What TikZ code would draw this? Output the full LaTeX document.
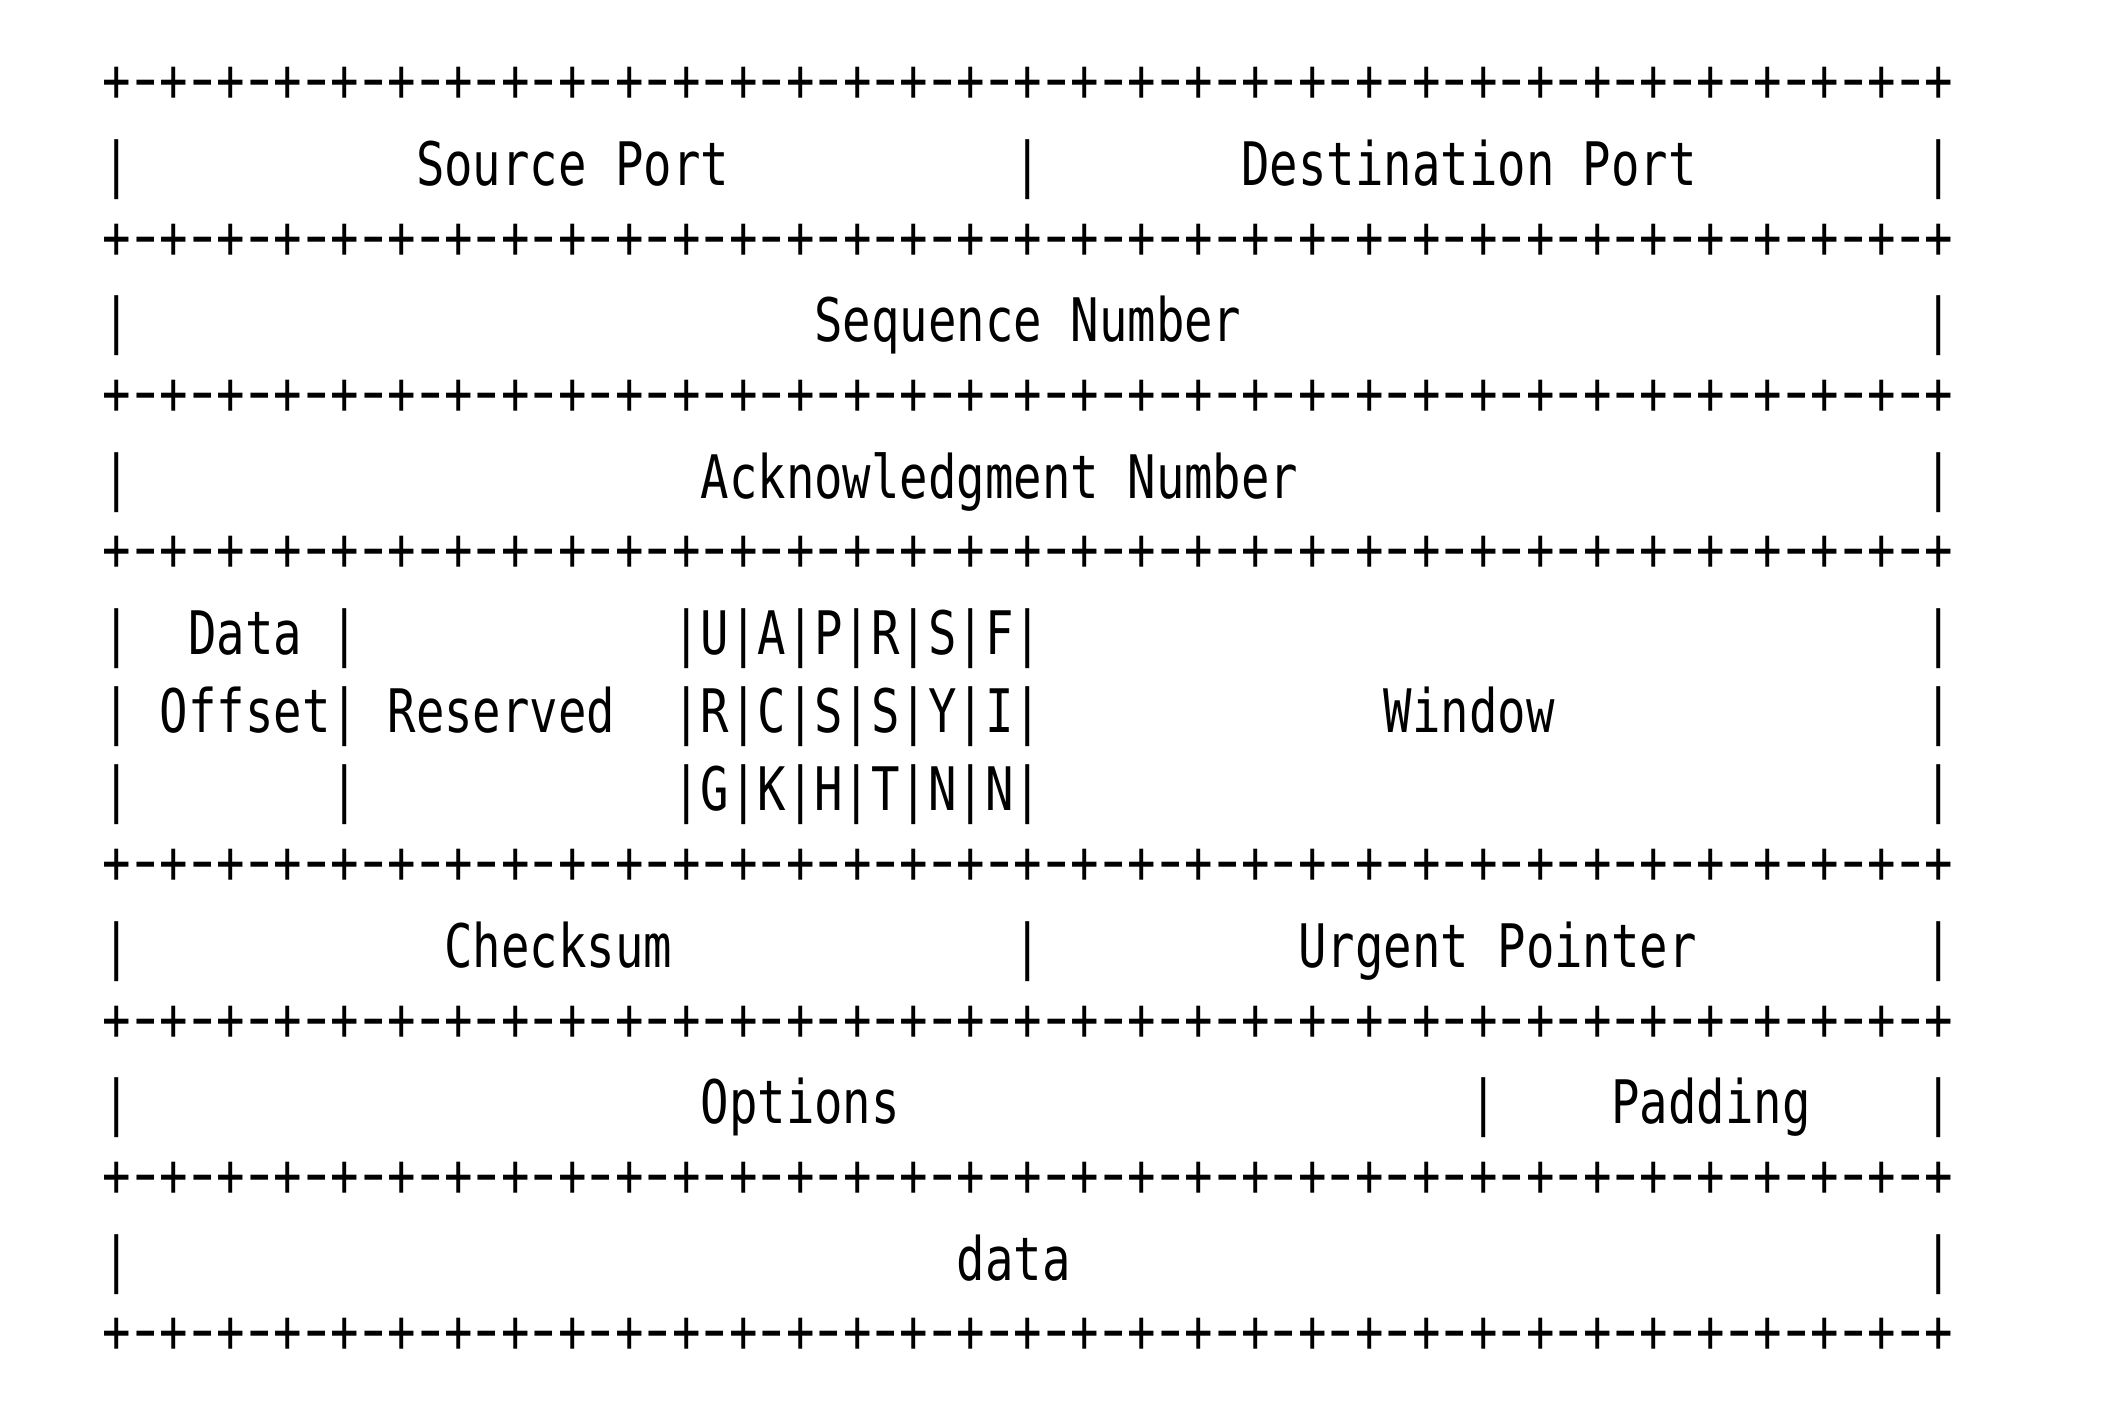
\documentclass[tikz,border=0pt]{standalone}
\usepackage{fontspec}
\newfontfamily\hdrfont{DejaVu Sans Mono}[FakeStretch=0.788]
\newcommand{\bitdash}{\makebox[7.115pt][c]{\scalebox{0.72}[1]{−}}}
\newcommand{\bitrule}{+\foreach \i in {1,...,32}{\bitdash+}}
\begin{document}
\begin{tikzpicture}[x=7.115pt, y=-19.55pt, every node/.style={inner sep=0pt, outer sep=0pt, anchor=base west, font=\hdrfont\fontsize{15}{18}\selectfont}]
				\useasboundingbox (-25.75pt,26.75pt) rectangle (505.5pt,-330pt);
				\foreach \r in {0,2,4,6,10,12,14,16}
					\node[yshift=1.35pt] (rule\r) at (0,\r) {\bitrule};
				\foreach \r/\c in {1/0,1/32,1/64,3/0,3/64,5/0,5/64,7/0,7/8,7/64,8/0,8/8,8/64,9/0,9/8,9/64,11/0,11/32,11/64,13/0,13/48,13/64,15/0,15/64}
					\node (bar\r-\c) at (\c,\r) {|};
				\node (srcport) at (11,1) {Source Port};
				\node (dstport) at (40,1) {Destination Port};
				\node (seqnum) at (25,3) {Sequence Number};
				\node (acknum) at (21,5) {Acknowledgment Number};
				\node (offset1) at (3,7) {Data};
				\node (offset2) at (2,8) {Offset};
				\node (reserved) at (10,8) {Reserved};
				\node (flags1) at (20,7) {|U|A|P|R|S|F|};
				\node (flags2) at (20,8) {|R|C|S|S|Y|I|};
				\node (flags3) at (20,9) {|G|K|H|T|N|N|};
				\node (window) at (45,8) {Window};
				\node (checksum) at (12,11) {Checksum};
				\node (urgptr) at (42,11) {Urgent Pointer};
				\node (options) at (21,13) {Options};
				\node (padding) at (53,13) {Padding};
				\node (data) at (30,15) {data};
			\end{tikzpicture}
\end{document}
